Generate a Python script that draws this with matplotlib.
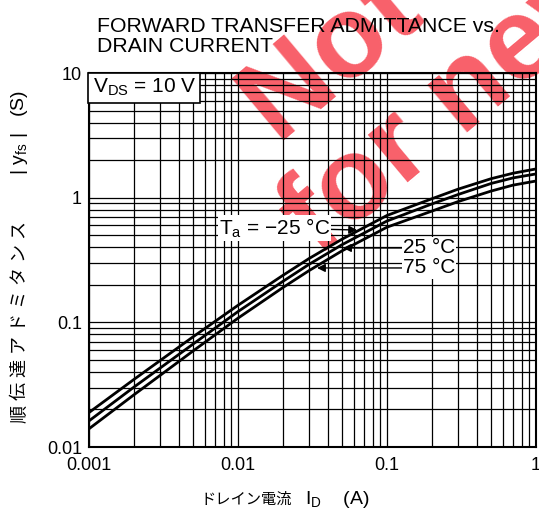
"""Forward transfer admittance vs. drain current (log-log datasheet chart)."""
import matplotlib
matplotlib.use("Agg")
import matplotlib.pyplot as plt

plt.rcParams["font.family"] = ["Liberation Sans", "Noto Sans CJK JP", "DejaVu Sans"]
plt.rcParams["mathtext.fontset"] = "custom"
plt.rcParams["mathtext.rm"] = "Liberation Sans"

# drain current (A)
i_d = [0.001, 0.002, 0.005, 0.01, 0.02, 0.03, 0.05, 0.1, 0.2, 0.3, 0.5, 0.7, 1.0]
# |yfs| (S) for each ambient temperature
yfs_m25 = [0.0189, 0.0348, 0.0766, 0.137, 0.238, 0.325, 0.465, 0.72, 0.98, 1.17, 1.42, 1.57, 1.70]
yfs_25 = [0.0162, 0.0302, 0.067, 0.122, 0.213, 0.292, 0.42, 0.65, 0.89, 1.06, 1.30, 1.44, 1.55]
yfs_75 = [0.0140, 0.0262, 0.059, 0.108, 0.19, 0.26, 0.375, 0.58, 0.78, 0.93, 1.13, 1.26, 1.36]

x_ticks = [0.001, 0.01, 0.1, 1]
x_labels = ["0.001", "0.01", "0.1", "1"]
y_ticks = [0.01, 0.1, 1, 10]
y_labels = ["0.01", "0.1", "1", "10"]

W, H = 539, 515
fig = plt.figure(figsize=(W / 100, H / 100), dpi=100)
ax = fig.add_axes([89 / W, 1 - 447 / H, (536 - 89) / W, (447 - 73) / H])
ax.set_facecolor("none")

# watermark sits behind everything
wm = dict(color="#f8606a", fontsize=84, fontweight="bold", rotation=40,
          rotation_mode="anchor", ha="left", va="baseline", zorder=-1)
fig.text(278 / W, 1 - 145 / H, "Not recommended", **wm)
fig.text(318 / W, 1 - 258 / H, "for new design", **wm)

for y in (yfs_m25, yfs_25, yfs_75):
    ax.plot(i_d, y, color="black", lw=2.0, solid_capstyle="butt", zorder=3)

ax.set_xscale("log")
ax.set_yscale("log")
ax.set_xlim(0.001, 1)
ax.set_ylim(0.01, 10)
ax.grid(which="both", color="black", lw=0.9)
ax.set_xticks(x_ticks)
ax.set_xticklabels(x_labels)
ax.set_yticks(y_ticks)
ax.set_yticklabels(y_labels)
ax.tick_params(which="both", length=0, labelsize=13, colors="black")
ax.tick_params(axis="x", pad=7)
ax.tick_params(axis="y", pad=5)
for s in ax.spines.values():
    s.set_linewidth(1.5)

ax.text(0.008, 0.99, r"V$_{\mathregular{DS}}$ = 10 V", transform=ax.transAxes,
        fontsize=15, ha="left", va="top",
        bbox=dict(boxstyle="square,pad=0.2", fc="white", ec="black", lw=1.2),
        zorder=5)

arrow = dict(arrowstyle="-|>", color="black", lw=1.0, mutation_scale=12,
             shrinkA=0, shrinkB=0)
label_bg = dict(boxstyle="square,pad=0.05", fc="white", ec="none")
ax.annotate(r"T$_{\mathregular{a}}$ = $-$25 °C", xy=(0.063, 0.55),
            xytext=(0.0414, 0.571), fontsize=15, ha="right", va="center",
            bbox=label_bg, arrowprops=arrow, zorder=5)
ax.annotate("25 °C", xy=(0.0507, 0.395), xytext=(0.128, 0.395),
            fontsize=15, ha="left", va="center", bbox=label_bg,
            arrowprops=arrow, zorder=5)
ax.annotate("75 °C", xy=(0.0339, 0.273), xytext=(0.128, 0.273),
            fontsize=15, ha="left", va="center", bbox=label_bg,
            arrowprops=arrow, zorder=5)

fig.text(97 / W, 1 - 32 / H, "FORWARD TRANSFER ADMITTANCE vs.", fontsize=15.3,
         ha="left", va="baseline")
fig.text(97 / W, 1 - 52 / H, "DRAIN CURRENT", fontsize=15.3, ha="left",
         va="baseline")

# axis titles, split so the CJK part and the subscript part each get their font
fig.text(20 / W, 1 - 423 / H, "順 伝 達 ア ド ミ タ ン ス", rotation=90,
         fontsize=13, ha="center", va="bottom")
fig.text(20 / W, 1 - 90 / H, r"| y$_{\mathregular{fs}}$ |   (S)", rotation=90,
         fontsize=14, ha="center", va="top")
fig.text(200 / W, 1 - 500 / H, "ドレイン電流", fontsize=11, ha="left",
         va="center")
fig.text(305 / W, 1 - 500 / H, r"I$_{\mathregular{D}}$    (A)", fontsize=14,
         ha="left", va="center")

fig.savefig("out.png", dpi=100)
